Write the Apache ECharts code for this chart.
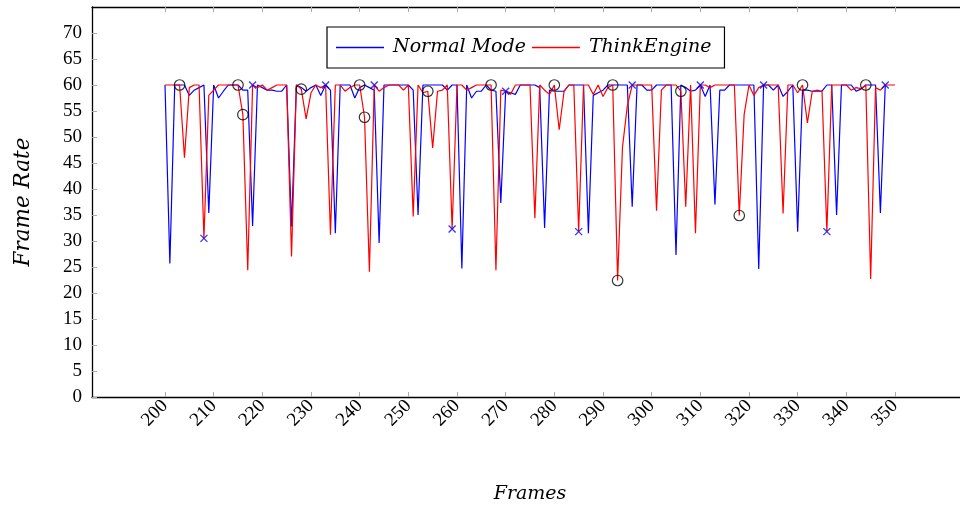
<!DOCTYPE html>
<html>
<head>
<meta charset="utf-8">
<script src="https://cdn.jsdelivr.net/npm/echarts@6/dist/echarts.min.js"></script>
<style>
html, body { margin: 0; padding: 0; background: #fff; }
#chart { width: 960px; height: 506px; }
</style>
</head>
<body>
<div id="chart"></div>
<script>
// Frame-rate trace per frame, starting at frame 200
const firstFrame = 200;

// Normal Mode: frames 200..348
const normalMode = [
  60, 25.7, 60, 60, 60, 58, 59, 59.5, 60, 35.4,
  60, 57.5, 58.8, 60, 60, 60, 59, 59, 32.9, 60,
  59.5, 59, 59, 58.8, 58.8, 60, 32.8, 60, 59.5, 58.8,
  59.5, 60, 58, 60, 59, 31.5, 60, 60, 60, 57.5,
  59.5, 60, 59.5, 59, 29.6, 60, 60, 60, 60, 60,
  60, 59, 35.0, 60, 60, 60, 60, 60, 59, 60,
  60, 24.7, 60, 57.5, 58.8, 58.8, 60, 59, 58.8, 37.3,
  58.8, 58.5, 58.2, 60, 60, 60, 60, 59.5, 32.5, 59,
  58.8, 58.8, 58.8, 60, 60, 60, 60, 31.5, 58, 58.5,
  59, 60, 60, 60, 60, 60, 36.6, 60, 60, 59,
  59, 60, 60, 60, 60, 27.3, 60, 59.5, 58.8, 59,
  60, 57.8, 60, 37, 59, 59, 60, 60, 60, 60,
  60, 60, 24.6, 60, 60, 59, 60, 57.8, 58.8, 60,
  31.8, 59, 59, 58.8, 58.8, 58.8, 60, 60, 35, 60,
  60, 60, 58.8, 59.2, 60, 60, 60, 35.4, 60
];

// ThinkEngine: frames 200..350
const thinkEngine = [
  60, 60, 60, 60, 46, 59.5, 60, 60, 30.5, 58,
  59, 60, 60, 60, 60, 60, 54.3, 24.4, 60, 59.5,
  60, 59, 59.5, 60, 60, 60, 27.0, 60, 59.2, 53.5,
  58.5, 60, 59.5, 60, 31.2, 60, 60, 58.8, 59.5, 60,
  60, 53.8, 24.1, 60, 58.8, 59.5, 60, 60, 60, 59,
  60, 34.7, 60, 58.5, 58.8, 47.9, 58.8, 59, 60, 32.3,
  60, 60, 59, 59.5, 60, 60, 60, 60, 24.4, 59,
  58.8, 58.2, 60, 60, 60, 60, 34.4, 60, 59, 58.2,
  60, 51.4, 58.8, 60, 60, 31.8, 60, 60, 58.2, 60,
  57.8, 59.5, 60, 22.4, 48, 56, 60, 60, 60, 60,
  60, 35.8, 59, 60, 60, 60, 58.8, 36.6, 60, 31.5,
  60, 60, 59.5, 60, 60, 60, 60, 60, 34.9, 54.3,
  60, 58, 59.5, 60, 60, 60, 60, 35.3, 60, 60,
  58.5, 60, 52.7, 58.8, 59, 58.8, 31.8, 60, 60, 60,
  60, 59, 59.5, 59.3, 60, 22.7, 59.5, 59, 60, 60,
  60
];

// Circled frames
const circleFrames = [203, 215, 216, 228, 240, 241, 254, 267, 280, 292, 293, 306, 318, 331, 344];
const circleValues = [60, 60, 54.3, 59.2, 60, 53.8, 58.8, 60, 60, 60, 22.4, 58.8, 34.9, 60, 60];

// Crossed frames
const crossFrames = [208, 218, 233, 243, 259, 270, 285, 296, 310, 323, 336, 348];
const crossValues = [30.5, 60, 60, 60, 32.3, 58.8, 31.8, 60, 60, 60, 31.8, 60];

// Tick positions
const xTicks = [200, 210, 220, 230, 240, 250, 260, 270, 280, 290, 300, 310, 320, 330, 340, 350];
const yTicks = [0, 5, 10, 15, 20, 25, 30, 35, 40, 45, 50, 55, 60, 65, 70];

const toPairs = (vals, start) => vals.map((v, i) => [start + i, v]);
const zipPairs = (xs, ys) => xs.map((x, i) => [x, ys[i]]);

const serifItalic = { fontFamily: 'DejaVu Serif', fontStyle: 'italic', fontSize: 19, color: '#000' };
const tickFont = { fontFamily: 'Liberation Serif', fontSize: 19, color: '#000' };
const frameLine = { show: true, onZero: false, lineStyle: { color: '#000', width: 1.3 } };
const innerTick = { show: true, inside: true, length: 5, lineStyle: { color: '#aaa', width: 1 } };

const chart = echarts.init(document.getElementById('chart'), null, { renderer: 'canvas' });

chart.setOption({
  animation: false,
  backgroundColor: '#fff',
  grid: {
    left: 92, top: 7, width: 876, height: 390,
    containLabel: false, outerBoundsMode: 'none'
  },
  legend: {
    data: ['Normal Mode', 'ThinkEngine'],
    left: 327, top: 27,
    orient: 'horizontal',
    icon: 'rect',
    padding: [11, 13, 11, 9],
    itemGap: 6,
    itemWidth: 48, itemHeight: 1.4,
    borderColor: '#000', borderWidth: 1.2, borderRadius: 0,
    backgroundColor: '#fff',
    textStyle: Object.assign({}, serifItalic, { padding: [0, 0, 0, 4] })
  },
  xAxis: [
    {
      type: 'value', min: 185, max: 365,
      position: 'bottom',
      name: 'Frames', nameLocation: 'middle', nameGap: 88, nameMoveOverlap: false,
      nameTextStyle: serifItalic,
      axisLine: frameLine,
      axisTick: Object.assign({ customValues: xTicks }, innerTick),
      axisLabel: Object.assign({ customValues: xTicks, rotate: 45, margin: 6 }, tickFont),
      splitLine: { show: false }
    },
    {
      type: 'value', min: 185, max: 365,
      position: 'top',
      axisLine: frameLine,
      axisTick: Object.assign({ customValues: xTicks }, innerTick),
      axisLabel: { show: false },
      splitLine: { show: false }
    }
  ],
  yAxis: {
    type: 'value', min: 0, max: 75,
    name: 'Frame Rate', nameLocation: 'middle', nameGap: 58, nameMoveOverlap: false,
    nameTextStyle: Object.assign({}, serifItalic, { fontSize: 21.5 }),
    axisLine: frameLine,
    axisTick: Object.assign({ customValues: yTicks }, innerTick),
    axisLabel: Object.assign({ customValues: yTicks, margin: 10 }, tickFont),
    splitLine: { show: false }
  },
  series: [
    {
      name: 'Normal Mode', type: 'line', xAxisIndex: 0,
      data: toPairs(normalMode, firstFrame),
      symbol: 'none', showSymbol: false,
      lineStyle: { color: '#0000ff', width: 1.2 },
      itemStyle: { color: '#0000ff' },
      z: 2
    },
    {
      name: 'ThinkEngine', type: 'line', xAxisIndex: 0,
      data: toPairs(thinkEngine, firstFrame),
      symbol: 'none', showSymbol: false,
      lineStyle: { color: '#ff0000', width: 1.2 },
      itemStyle: { color: '#ff0000' },
      z: 3
    },
    {
      name: 'circles', type: 'scatter', xAxisIndex: 0,
      data: zipPairs(circleFrames, circleValues),
      symbol: 'circle', symbolSize: 10.5,
      itemStyle: { color: 'rgba(0,0,0,0)', borderColor: '#000', borderWidth: 1.2 },
      z: 4
    },
    {
      name: 'crosses', type: 'scatter', xAxisIndex: 0,
      data: zipPairs(crossFrames, crossValues),
      symbol: 'path://M0,0L10,10M10,0L0,10', symbolSize: 7,
      itemStyle: { color: 'rgba(0,0,0,0)', borderColor: '#0000ff', borderWidth: 1.3 },
      z: 5
    }
  ]
});
</script>
</body>
</html>
